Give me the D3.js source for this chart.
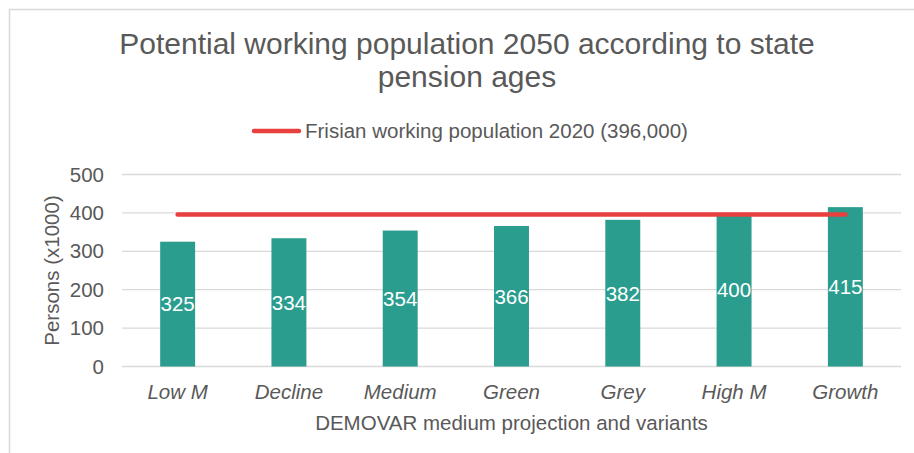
<!DOCTYPE html>
<html>
<head>
<meta charset="utf-8">
<script src="https://cdn.jsdelivr.net/npm/d3@7"></script>
<style>
  html, body { margin: 0; padding: 0; background: #fff; }
  svg { display: block; font-family: "Liberation Sans", Arial, sans-serif; }
</style>
</head>
<body>
<svg id="chart" width="914" height="453"></svg>
<script>
// Scenario names along the x axis
const categories = ["Low M", "Decline", "Medium", "Green", "Grey", "High M", "Growth"];
// Potential working population 2050 per scenario (x1000 persons)
const values = [325, 334, 354, 366, 382, 400, 415];
// Reference level: working population 2020 (x1000 persons)
const reference2020 = 396;
const yTicks = [0, 100, 200, 300, 400, 500];
const titleLines = ["Potential working population 2050 according to state", "pension ages"];
const legendLabel = "Frisian working population 2020 (396,000)";
const xTitle = "DEMOVAR medium projection and variants";
const yTitle = "Persons (x1000)";

const svg = d3.select("#chart");
const textColor = "#595959";
const barColor = "#2a9d8f";
const lineColor = "#e8403f";
const labelSize = 20.5;

// Chart frame
svg.append("path")
  .attr("d", "M9.5,460 V9.5 H920")
  .attr("fill", "none")
  .attr("stroke", "#d9d9d9")
  .attr("stroke-width", 1.5);

const plot = { left: 122, right: 901, top: 174.5, bottom: 366.5 };

const x = d3.scaleBand()
  .domain(categories)
  .range([plot.left, plot.right])
  .paddingInner(0.686)
  .paddingOuter(0.343);

const y = d3.scaleLinear()
  .domain([0, 500])
  .range([plot.bottom, plot.top]);

// Horizontal gridlines
svg.append("g")
  .selectAll("line")
  .data(yTicks)
  .join("line")
  .attr("x1", plot.left)
  .attr("x2", plot.right)
  .attr("y1", d => y(d))
  .attr("y2", d => y(d))
  .attr("stroke", "#d9d9d9")
  .attr("stroke-width", 1.3);

// Y axis tick labels
const yAxis = d3.axisLeft(y).tickValues(yTicks).tickSize(0).tickPadding(0);
const yg = svg.append("g")
  .attr("transform", `translate(${plot.left - 18},0)`)
  .call(yAxis);
yg.select(".domain").remove();
yg.selectAll("text")
  .attr("fill", textColor)
  .attr("font-size", labelSize)
  .attr("font-family", "\"Liberation Sans\", Arial, sans-serif");

// Bars
svg.append("g")
  .selectAll("rect")
  .data(values)
  .join("rect")
  .attr("x", (d, i) => x(categories[i]))
  .attr("width", x.bandwidth())
  .attr("y", d => y(d))
  .attr("height", d => y(0) - y(d))
  .attr("fill", barColor);

// Value labels centred inside each bar
svg.append("g")
  .selectAll("text")
  .data(values)
  .join("text")
  .attr("x", (d, i) => x(categories[i]) + x.bandwidth() / 2)
  .attr("y", d => (y(d) + y(0)) / 2)
  .attr("dy", "0.36em")
  .attr("text-anchor", "middle")
  .attr("fill", "#ffffff")
  .attr("font-size", labelSize)
  .text(d => d);

// 2020 reference line from first to last bar centre
svg.append("line")
  .attr("x1", x(categories[0]) + x.bandwidth() / 2)
  .attr("x2", x(categories[categories.length - 1]) + x.bandwidth() / 2)
  .attr("y1", y(reference2020))
  .attr("y2", y(reference2020))
  .attr("stroke", lineColor)
  .attr("stroke-width", 4.5)
  .attr("stroke-linecap", "round");

// X axis category labels
const xAxis = d3.axisBottom(x).tickSize(0).tickPadding(0);
const xg = svg.append("g")
  .attr("transform", `translate(0,${plot.bottom})`)
  .call(xAxis);
xg.select(".domain").remove();
xg.selectAll("text")
  .attr("dy", null)
  .attr("y", 32)
  .attr("fill", textColor)
  .attr("font-size", labelSize)
  .attr("font-style", "italic")
  .attr("font-family", "\"Liberation Sans\", Arial, sans-serif");

// Axis titles
svg.append("text")
  .attr("x", (plot.left + plot.right) / 2)
  .attr("y", 430)
  .attr("text-anchor", "middle")
  .attr("fill", textColor)
  .attr("font-size", labelSize)
  .text(xTitle);

svg.append("text")
  .attr("transform", `translate(59,${(plot.top + plot.bottom) / 2}) rotate(-90)`)
  .attr("text-anchor", "middle")
  .attr("fill", textColor)
  .attr("font-size", labelSize)
  .text(yTitle);

// Title
svg.append("g")
  .selectAll("text")
  .data(titleLines)
  .join("text")
  .attr("x", 467)
  .attr("y", (d, i) => 54 + i * 33)
  .attr("text-anchor", "middle")
  .attr("fill", textColor)
  .attr("font-size", 30)
  .text(d => d);

// Legend
const legend = svg.append("g");
legend.append("line")
  .attr("x1", 254).attr("x2", 299)
  .attr("y1", 131).attr("y2", 131)
  .attr("stroke", lineColor)
  .attr("stroke-width", 4.5)
  .attr("stroke-linecap", "round");
legend.append("text")
  .attr("x", 305)
  .attr("y", 138)
  .attr("fill", textColor)
  .attr("font-size", labelSize)
  .text(legendLabel);
</script>
</body>
</html>
